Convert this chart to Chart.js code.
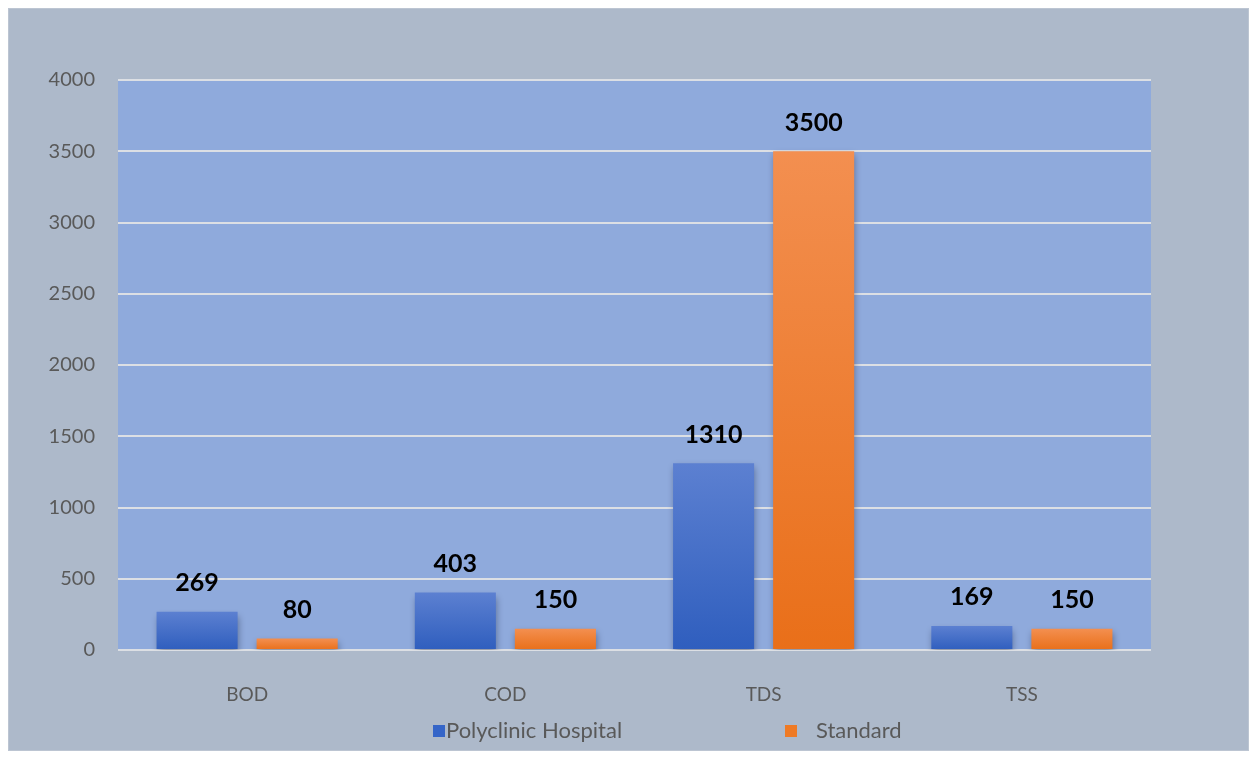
<!DOCTYPE html>
<html>
<head>
<meta charset="utf-8">
<script src="https://cdn.jsdelivr.net/npm/chart.js@4"></script>
<style>
  body { margin: 0; background: #ffffff; }
  #wrap { position: relative; width: 1257px; height: 759px; }
  #leyenda { position: absolute; left: 0; top: 717px; width: 1257px; height: 26px; font-family: Lato, sans-serif; font-size: 22px; color: #595959; }
  .item { position: absolute; top: 0; line-height: 26px; white-space: nowrap; }
  .caja { display: inline-block; width: 12px; height: 12px; vertical-align: 1px; }
</style>
</head>
<body>
<div id="wrap">
  <canvas id="grafica" width="1257" height="759"></canvas>
  <div id="leyenda"></div>
</div>
<script>
const categorias = ["BOD", "COD", "TDS", "TSS"];
const hospital = [269, 403, 1310, 169];
const estandar = [80, 150, 3500, 150];
const nombresSeries = ["Polyclinic Hospital", "Standard"];
const marcasY = [0, 500, 1000, 1500, 2000, 2500, 3000, 3500, 4000];

const coloresSerie = [
  { arriba: "#5c80d1", abajo: "#2f5ebe", caja: "#3565c8" },
  { arriba: "#f38f50", abajo: "#e96f19", caja: "#ef7a24" }
];

function degradado(ctx) {
  const chart = ctx.chart;
  const area = chart.chartArea;
  const c = coloresSerie[ctx.datasetIndex];
  if (!area || ctx.type !== "data") return c.caja;
  const y = chart.scales.y;
  const top = y.getPixelForValue(ctx.raw);
  const base = y.getPixelForValue(0);
  if (!isFinite(top) || Math.abs(base - top) < 1) return c.caja;
  const g = chart.ctx.createLinearGradient(0, top, 0, base);
  g.addColorStop(0, c.arriba);
  g.addColorStop(1, c.abajo);
  return g;
}

const fondo = {
  id: "fondo",
  beforeDraw(chart) {
    const ctx = chart.ctx;
    const a = chart.chartArea;
    ctx.save();
    ctx.fillStyle = "#ffffff";
    ctx.fillRect(0, 0, chart.width, chart.height);
    ctx.fillStyle = "#adb9ca";
    ctx.fillRect(8, 8, chart.width - 16, chart.height - 16);
    ctx.strokeStyle = "#bcc5d2";
    ctx.lineWidth = 1;
    ctx.strokeRect(8.5, 8.5, chart.width - 17, chart.height - 17);
    ctx.fillStyle = "#8faadc";
    ctx.fillRect(a.left, a.top, a.right - a.left, a.bottom - a.top);
    ctx.restore();
  }
};

const sombra = {
  id: "sombra",
  beforeDatasetsDraw(chart) {
    const ctx = chart.ctx;
    ctx.save();
    ctx.shadowColor = "rgba(30, 40, 70, 0.45)";
    ctx.shadowBlur = 7;
    ctx.shadowOffsetX = 1;
    ctx.shadowOffsetY = 4;
  },
  afterDatasetsDraw(chart) {
    chart.ctx.restore();
  }
};

const etiquetas = {
  id: "etiquetas",
  afterDatasetsDraw(chart) {
    const ctx = chart.ctx;
    ctx.save();
    ctx.font = "bold 25px Lato, sans-serif";
    ctx.fillStyle = "#000000";
    ctx.textAlign = "center";
    ctx.textBaseline = "bottom";
    chart.data.datasets.forEach((ds, i) => {
      chart.getDatasetMeta(i).data.forEach((bar, j) => {
        ctx.fillText(ds.data[j], bar.x, bar.y - 16);
      });
    });
    ctx.restore();
  }
};

const chart = new Chart(document.getElementById("grafica"), {
  type: "bar",
  data: {
    labels: categorias,
    datasets: [
      { label: nombresSeries[0], data: hospital, backgroundColor: degradado },
      { label: nombresSeries[1], data: estandar, backgroundColor: degradado }
    ]
  },
  options: {
    responsive: false,
    animation: false,
    categoryPercentage: 0.775,
    barPercentage: 0.81,
    layout: { padding: { left: 8, right: 106, top: 80, bottom: 49 } },
    plugins: {
      legend: { display: false },
      tooltip: { enabled: false }
    },
    scales: {
      x: {
        grid: { display: false },
        border: { display: false },
        ticks: { color: "#595959", font: { family: "Lato, sans-serif", size: 19 }, padding: 25 },
        afterFit(s) { s.height = 60; }
      },
      y: {
        min: 0,
        max: 4000,
        afterBuildTicks(s) { s.ticks = marcasY.map(v => ({ value: v })); },
        grid: { color: "#dcdfe4", lineWidth: 2, drawTicks: false },
        border: { display: false },
        ticks: {
          color: "#595959",
          font: { family: "Lato, sans-serif", size: 20 },
          padding: 23,
          callback: v => String(v)
        },
        afterFit(s) { s.width = 110; }
      }
    }
  },
  plugins: [fondo, sombra, etiquetas]
});

// leyenda en HTML, a partir de los datasets
const leyenda = document.getElementById("leyenda");
const posiciones = [433, 785];
chart.data.datasets.forEach((ds, i) => {
  const item = document.createElement("span");
  item.className = "item";
  item.style.left = posiciones[i] + "px";
  const caja = document.createElement("span");
  caja.className = "caja";
  caja.style.background = coloresSerie[i].caja;
  caja.style.marginRight = i === 0 ? "1px" : "19px";
  item.appendChild(caja);
  item.appendChild(document.createTextNode(ds.label));
  leyenda.appendChild(item);
});
</script>
</body>
</html>
